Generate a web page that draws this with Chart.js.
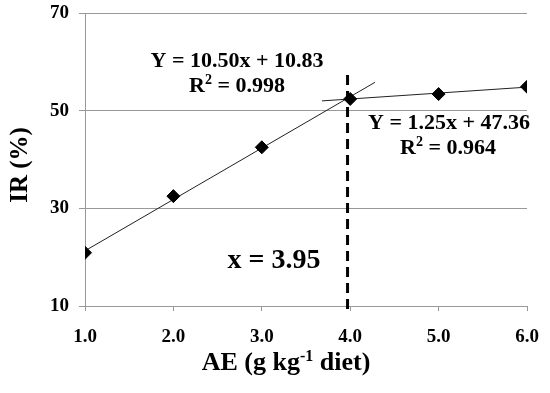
<!DOCTYPE html>
<html>
<head>
<meta charset="utf-8">
<script src="https://cdn.jsdelivr.net/npm/chart.js@4"></script>
<style>
html,body{margin:0;padding:0;background:#fff;}
#wrap{width:550px;height:393px;position:relative;}
</style>
</head>
<body>
<div id="wrap"><canvas id="c" width="550" height="393"></canvas></div>
<script>
// Data
const aeLevels = [1, 2, 3, 4, 5, 6];
const irValues = [20.9, 32.5, 42.5, 52.4, 53.4, 54.9];
// Trend line end points
const trend1X = [1.0, 4.28];
const trend1Y = [21.3, 55.8];
const trend2X = [3.68, 6.15];
const trend2Y = [52.0, 55.0];
// Break point dashed line (drawn from top down)
const breakX = [3.97, 3.97];
const breakY = [57.3, 9.3];
const yTicks = [10, 30, 50, 70];
const xTicks = [1, 2, 3, 4, 5, 6];

const SERIF = '"Liberation Serif", "Times New Roman", serif';

function pts(xs, ys){ return xs.map((x,i)=>({x:x, y:ys[i]})); }

function drawRich(ctx, parts, cx, by, size){
  ctx.save();
  ctx.textBaseline = 'alphabetic';
  ctx.textAlign = 'left';
  let w = 0;
  const supSize = Math.round(size*0.62);
  parts.forEach(p=>{
    ctx.font = 'bold ' + (p[1]?supSize:size) + 'px ' + SERIF;
    w += ctx.measureText(p[0]).width;
  });
  let x = cx - w/2;
  parts.forEach(p=>{
    ctx.font = 'bold ' + (p[1]?supSize:size) + 'px ' + SERIF;
    ctx.fillStyle = '#000';
    ctx.fillText(p[0], x, p[1] ? by - size*0.36 : by);
    x += ctx.measureText(p[0]).width;
  });
  ctx.restore();
}

const textPlugin = {
  id: 'texts',
  afterDraw(chart){
    const ctx = chart.ctx;
    drawRich(ctx, [['Y = 10.50x + 10.83', false]], 237, 67, 22);
    drawRich(ctx, [['R', false], ['2', true], [' = 0.998', false]], 237, 92, 22);
    drawRich(ctx, [['Y = 1.25x + 47.36', false]], 449, 129, 22);
    drawRich(ctx, [['R', false], ['2', true], [' = 0.964', false]], 448, 154, 22);
    drawRich(ctx, [['x = 3.95', false]], 274, 268, 28);
    drawRich(ctx, [['AE (g kg', false], ['-1', true], [' diet)', false]], 286, 370, 26);
    ctx.save();
    ctx.translate(27, 165);
    ctx.rotate(-Math.PI/2);
    drawRich(ctx, [['IR (%)', false]], 0, 0, 25);
    ctx.restore();
  }
};

new Chart(document.getElementById('c'), {
  type: 'scatter',
  data: {
    datasets: [
      {
        label: 'IR',
        data: pts(aeLevels, irValues),
        showLine: false,
        pointStyle: 'rectRot',
        pointRadius: 6.5,
        pointBackgroundColor: '#000',
        pointBorderColor: '#000',
        pointBorderWidth: 1,
        order: 0
      },
      {
        label: 'trend1',
        data: pts(trend1X, trend1Y),
        showLine: true,
        borderColor: '#222',
        borderWidth: 1,
        pointRadius: 0,
        order: 1
      },
      {
        label: 'trend2',
        data: pts(trend2X, trend2Y),
        showLine: true,
        borderColor: '#222',
        borderWidth: 1,
        pointRadius: 0,
        order: 1
      },
      {
        label: 'break',
        data: pts(breakX, breakY),
        showLine: true,
        borderColor: '#000',
        borderWidth: 3,
        borderDash: [10, 6],
        pointRadius: 0,
        clip: false,
        order: 2
      }
    ]
  },
  options: {
    responsive: false,
    animation: false,
    devicePixelRatio: 1,
    layout: { padding: { top: 13, right: 23, left: 0, bottom: 0 } },
    plugins: { legend: { display: false }, tooltip: { enabled: false } },
    scales: {
      x: {
        type: 'linear',
        min: 1, max: 6,
        afterBuildTicks(s){ s.ticks = xTicks.map(v=>({value:v})); },
        afterFit(s){ s.height = 87; s.paddingLeft = 0; s.paddingRight = 0; },
        grid: { drawOnChartArea: false, drawTicks: true, tickLength: 5, color: '#999' },
        border: { display: true, color: '#999', width: 1 },
        ticks: {
          color: '#000',
          padding: 15,
          maxRotation: 0,
          font: { family: SERIF, size: 19, weight: 'bold' },
          callback: v => Number(v).toFixed(1)
        }
      },
      y: {
        type: 'linear',
        min: 10, max: 70,
        afterBuildTicks(s){ s.ticks = yTicks.map(v=>({value:v})); },
        afterFit(s){ s.width = 85; s.paddingTop = 0; s.paddingBottom = 0; },
        grid: { drawOnChartArea: true, drawTicks: true, tickLength: 6, color: '#999' },
        border: { display: true, color: '#999', width: 1 },
        ticks: {
          color: '#000',
          padding: 10,
          font: { family: SERIF, size: 19, weight: 'bold' }
        }
      }
    }
  },
  plugins: [textPlugin]
});
</script>
</body>
</html>
